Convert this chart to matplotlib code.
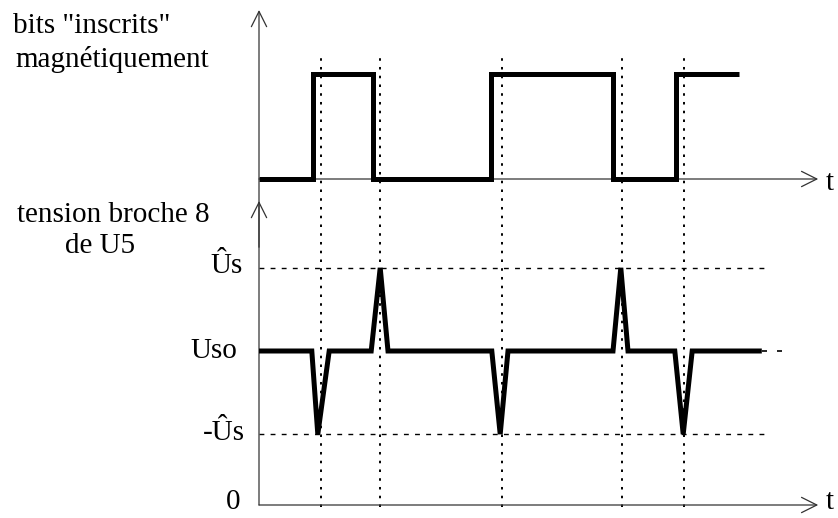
import matplotlib
matplotlib.use("Agg")
import matplotlib.pyplot as plt

# ---------------- data (time in bit periods, levels in arbitrary units) ----------------
clock_t = [1.03, 2.02, 4.05, 6.05, 7.08]                 # dotted reference instants
bit_edges = [0.0, 0.90, 1.90, 3.87, 5.90, 6.95, 8.00]     # transitions of written bits
bit_levels = [0, 1, 0, 1, 0, 1]                           # level between edges

U0 = 0.0
Uso = 1.0
Us_hat = 1.54
Us_neg = 0.46
pulse_start = [0.88, 1.87, 3.88, 5.90, 6.93]
pulse_tip = [0.98, 2.02, 4.02, 6.03, 7.07]
pulse_end = [1.17, 2.15, 4.15, 6.15, 7.22]
pulse_sign = [-1, 1, -1, 1, -1]
signal_end = 8.38
uso_dash_end = 8.88
level_dash_end = 8.43
t_axis_end = 9.32

top_labels = ['bits "inscrits"', 'magnétiquement']
bot_labels = ['tension broche 8', 'de U5']
level_labels = ['Ûs', 'Uso', '-Ûs', '0']

# ---------------- figure ----------------
W, H = 838, 518
fig = plt.figure(figsize=(W / 100, H / 100), dpi=100)
FONT = 'Liberation Serif'
FS = 21

px_per_t = 60.0
x0 = 259.0
xlim = (-x0 / px_per_t, (W - x0) / px_per_t)

ax_top = fig.add_axes([0, 0, 1, 1])
ax_bot = fig.add_axes([0, 0, 1, 1])
for ax in (ax_top, ax_bot):
    ax.set_xlim(*xlim)
    ax.axis('off')
    ax.patch.set_alpha(0)

# top: axis at pixel 179, 105 px per unit
top_y0, top_u = 179.0, 105.0
ax_top.set_ylim((top_y0 - H) / top_u, top_y0 / top_u)
# bottom: zero at pixel 505, 154 px per unit
bot_y0, bot_u = 505.0, 154.0
ax_bot.set_ylim((bot_y0 - H) / bot_u, bot_y0 / bot_u)

axis_col = '#333333'
arrow_kw = dict(arrowstyle='->,head_length=11,head_width=5.5', color=axis_col,
                lw=0.9, mutation_scale=1, shrinkA=0, shrinkB=0)

# vertical axis (continuous) with two open arrowheads
v_top = (bot_y0 - 10) / bot_u
v_mid = (bot_y0 - 201) / bot_u
ax_bot.annotate('', xy=(0, v_top), xytext=(0, U0), arrowprops=arrow_kw)
ax_bot.annotate('', xy=(0, v_mid), xytext=(0, v_mid - 0.3), arrowprops=arrow_kw)

# horizontal time axes
ax_top.annotate('', xy=(t_axis_end, 0), xytext=(0, 0), arrowprops=arrow_kw)
ax_bot.annotate('', xy=(t_axis_end, U0), xytext=(0, U0), arrowprops=arrow_kw)

# dotted clock lines spanning both graphs
dot_top = (bot_y0 - 58) / bot_u
for t in clock_t:
    ax_bot.plot([t, t], [-0.015, dot_top], color='black', lw=1.4,
                linestyle=(0, (1.3, 3.2)), zorder=2)

# dashed levels
for lv in (Us_hat, Us_neg):
    ax_bot.plot([0, level_dash_end], [lv, lv], color='black', lw=1.0,
                linestyle=(0, (3.5, 4.5)), zorder=2)
ax_bot.plot([signal_end, uso_dash_end], [Uso, Uso], color='black', lw=1.2,
            linestyle=(0, (3, 6)), zorder=2)

# top square wave
xs, ys = [], []
for i, lv in enumerate(bit_levels):
    xs += [bit_edges[i], bit_edges[i + 1]]
    ys += [lv, lv]
ax_top.plot(xs, ys, color='black', lw=3.6, solid_joinstyle='miter',
            solid_capstyle='butt', zorder=3)

# bottom pulse signal
px, py = [0.0], [Uso]
for s, tp, e, sg in zip(pulse_start, pulse_tip, pulse_end, pulse_sign):
    px += [s, tp, e]
    py += [Uso, Us_hat if sg > 0 else Us_neg, Uso]
px.append(signal_end)
py.append(Uso)
ax_bot.plot(px, py, color='black', lw=3.6, solid_joinstyle='miter',
            solid_capstyle='butt', zorder=3)

# ---------------- texts ----------------
def ftext(x, y, s, ha='left', va='baseline'):
    fig.text(x / W, 1 - y / H, s, ha=ha, va=va, fontsize=FS,
             family=FONT, color='black')

ftext(13, 33, top_labels[0])
ftext(15, 67, top_labels[1])
ftext(113, 222, bot_labels[0], ha='center')
ftext(100, 253, bot_labels[1], ha='center')
ftext(243, 273, level_labels[0], ha='right')
ftext(237, 358, level_labels[1], ha='right')
ftext(245, 440, level_labels[2], ha='right')
ftext(240, 509, level_labels[3], ha='right')
ftext(826, 190, 't')
ftext(826, 509, 't')

fig.savefig('out.png', dpi=100)
